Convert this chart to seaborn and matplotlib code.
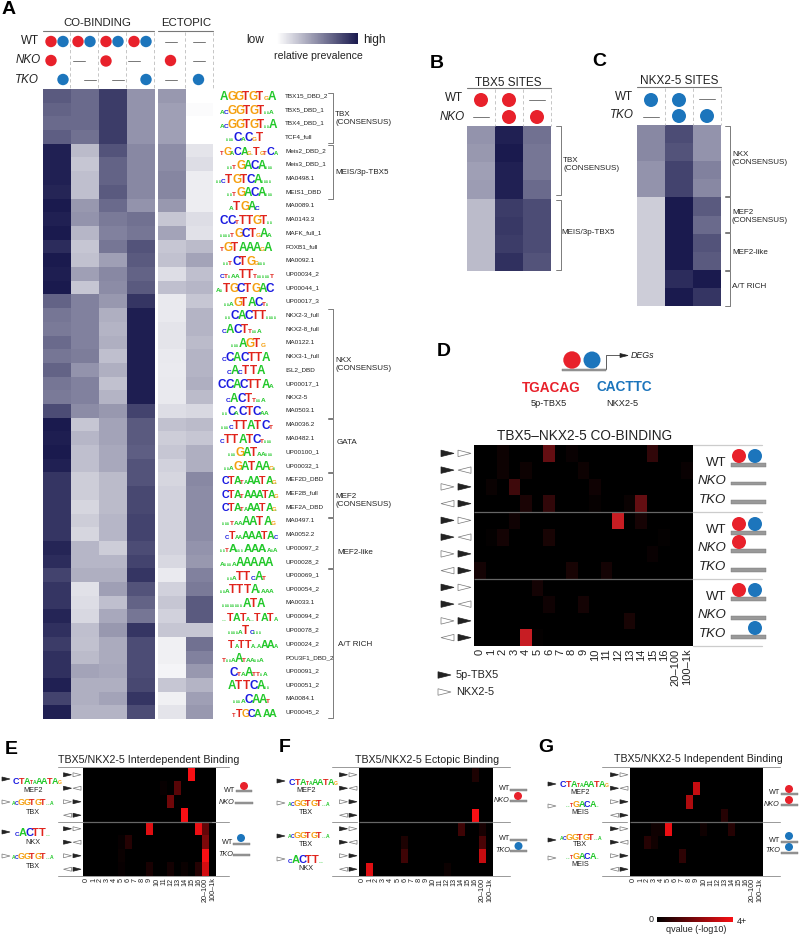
import numpy as np
import matplotlib
matplotlib.use('Agg')
import matplotlib.pyplot as plt
import seaborn as sns
from matplotlib.colors import LinearSegmentedColormap
from matplotlib.patches import Circle, Polygon, Rectangle

# panel A values (relative prevalence)
motif_names = ['TBX15_DBD_2', 'TBX5_DBD_1', 'TBX4_DBD_1', 'TCF4_full', 'Meis2_DBD_2', 'Meis3_DBD_1', 'MA0498.1', 'MEIS1_DBD',
               'MA0089.1', 'MA0143.3', 'MAFK_full_1', 'FOXB1_full', 'MA0092.1', 'UP00034_2', 'UP00044_1', 'UP00017_3',
               'NKX2-3_full', 'NKX2-8_full', 'MA0122.1', 'NKX3-1_full', 'ISL2_DBD', 'UP00017_1', 'NKX2-5', 'MA0503.1',
               'MA0036.2', 'MA0482.1', 'UP00100_1', 'UP00032_1', 'MEF2D_DBD', 'MEF2B_full', 'MEF2A_DBD', 'MA0497.1',
               'MA0052.2', 'UP00097_2', 'UP00028_2', 'UP00069_1', 'UP00054_2', 'MA0033.1', 'UP00094_2', 'UP00078_2',
               'UP00024_2', 'POU3F1_DBD_2', 'UP00091_2', 'UP00051_2', 'MA0084.1', 'UP00045_2']
motif_logos = ['AGGTGTgA', 'acGGTGT..a', 'acGGTGT..A', '...CaCgT', 'tGaCAg.TgtCa', '..tGACA...', '..cTGTCA....', '..tGACA...',
               'aTGAc', 'CCtTTGT..', '....tGCTgAa', 'tGTAAAgA', '..tCTGg...', 'ct.aaTTt.....t', 'a.TGCTGAC', '..aGTACt.',
               '..CACTT....', 'cACTt..a', '...AGTg', 'cCACTTA', 'cAcTTA', 'CCACTTAa', 'cACTt..a', '..CaCTCaa',
               '...cTTATCt', 'cTTATCt...', '...GATaa...', '..aGATAAg.', 'CTAtaAATAg.', 'CTAtAAATAg', 'CTAtaAATAg.', '...taaAATAg',
               'cTaaAAATAc', '..tA...AAA.a.a', 'a...aAAAAA', '..aTTcAt', '..aTTTA.aaa', '........ATA', '..TATa..TATa', '....aTc...',
               'TaTTa.aAAa', 't..aAtaa..a', 'CtaAtt.a', 'ATTCA..', '...aCAAt', 'tTGCA.AA.']
logo_starts = [220, 220, 220, 226, 220, 227, 216, 227, 229, 220, 220, 220, 223, 220, 216, 224,
               225, 222, 231, 222, 227, 218, 226, 222, 221, 220, 228, 224, 222, 222, 222, 222,
               225, 220, 220, 227, 220, 222, 222, 228, 228, 222, 230, 228, 233, 232]
co_binding = [[.72, .65, .85, .47], [.68, .65, .85, .47], [.65, .65, .85, .47], [.70, .62, .85, .47],
              [.97, .30, .75, .52], [.97, .25, .68, .52], [.97, .28, .68, .52], [.95, .28, .72, .52],
              [1.0, .45, .65, .47], [.97, .47, .58, .62], [1.0, .32, .55, .60], [.92, .25, .60, .75],
              [1.0, .27, .42, .72], [.98, .42, .52, .68], [1.0, .25, .50, .72], [.68, .55, .45, .88],
              [.60, .55, .35, .98], [.58, .55, .33, .98], [.65, .55, .35, .98], [.60, .57, .28, .98],
              [.68, .47, .35, .98], [.60, .55, .27, .98], [.58, .55, .33, .98], [.78, .50, .45, .82],
              [1.0, .25, .40, .72], [.98, .32, .40, .72], [1.0, .28, .38, .70], [.97, .28, .38, .75],
              [.88, .22, .30, .75], [.88, .22, .30, .80], [.88, .18, .30, .80], [.88, .22, .32, .82],
              [.88, .18, .32, .82], [.95, .32, .22, .78], [.92, .32, .32, .82], [.82, .35, .35, .88],
              [.88, .13, .42, .75], [.88, .15, .28, .68], [.95, .17, .38, .60], [.90, .28, .45, .88],
              [.85, .27, .37, .78], [.90, .30, .37, .78], [.90, .40, .38, .78], [.97, .35, .35, .80],
              [.82, .35, .40, .88], [.97, .33, .33, .78]]
ectopic = [[.45, .0], [.42, .02], [.42, .0], [.42, .0], [.50, .12], [.50, .15], [.53, .08], [.53, .08],
           [.45, .08], [.25, .15], [.40, .13], [.25, .30], [.27, .40], [.15, .28], [.28, .32], [.10, .25],
           [.10, .33], [.12, .33], [.12, .30], [.10, .33], [.09, .33], [.10, .35], [.10, .30], [.15, .17],
           [.27, .30], [.22, .25], [.25, .35], [.20, .35], [.18, .52], [.20, .50], [.20, .50], [.20, .50],
           [.20, .50], [.20, .47], [.17, .45], [.09, .55], [.20, .58], [.25, .72], [.20, .72], [.25, .25],
           [.07, .62], [.07, .55], [.05, .45], [.25, .33], [.07, .42], [.12, .45]]

tbx5_sites = [[.47, .97, .62], [.45, 1.0, .60], [.42, .97, .60], [.43, .97, .65],
              [.30, .85, .78], [.30, .87, .78], [.30, .85, .78], [.30, .90, .75]]
nkx_sites = [[.52, .78, .47], [.52, .75, .47], [.47, .82, .55], [.47, .82, .52], [.22, 1.0, .72],
             [.22, 1.0, .65], [.22, 1.0, .75], [.22, 1.0, .72], [.22, .92, 1.0], [.22, 1.0, .88]]

# spacing bins and the non zero q-value cells: (row, bin, value)
bin_labels = [str(i) for i in range(17)] + ['20\u2013100', '100\u20131k']
d_cells = [(0, 2, .06), (0, 6, .45), (0, 8, .04), (0, 15, .22), (1, 2, .06), (1, 4, .06), (1, 9, .06), (1, 18, .04),
           (2, 1, .05), (2, 3, .28), (2, 10, .07), (3, 4, .12), (3, 6, .22), (3, 10, .03), (3, 13, .05), (3, 14, .45),
           (4, 3, .07), (4, 12, .9), (4, 14, .1), (5, 1, .02), (5, 2, .09), (5, 6, .11), (5, 16, .02), (6, 15, .04),
           (7, 0, .09), (7, 8, .11), (7, 11, .09), (8, 5, .09), (9, 6, .07), (9, 9, .09), (10, 13, .11), (11, 4, .9), (11, 5, .02)]
e_cells = [(0, 15, 1.0), (1, 11, .03), (1, 13, .35), (2, 12, .45), (3, 14, 1.0), (4, 9, .9), (4, 16, .95), (4, 17, .4),
           (5, 5, .03), (5, 6, .15), (5, 17, .5), (6, 5, .04), (6, 17, 1.0), (7, 5, .03), (7, 9, .1), (7, 12, .08),
           (7, 14, .04), (7, 16, .15), (7, 17, .85)]
f_cells = [(0, 16, .12), (3, 16, 1.0), (4, 14, .25), (4, 17, .1), (5, 6, .12), (5, 17, .3), (6, 6, .25), (6, 17, .8),
           (7, 1, .9), (7, 12, .05)]
g_cells = [(1, 9, .8), (2, 8, .7), (3, 13, .15), (4, 3, .06), (4, 4, .06), (4, 5, .95), (4, 10, .06), (4, 14, .15),
           (5, 2, .15), (5, 3, .07), (6, 7, .18)]

RED = '#e8212b'
BLUE = '#1c75bc'
NAVY = '#1a1a4e'
LOGO_COLORS = {'A': '#22c82a', 'C': '#1a1ae0', 'G': '#f5a011', 'T': '#e0241c'}

sns.set_theme(style='white')
plt.rcParams['font.family'] = ['Liberation Sans', 'DejaVu Sans']

fig = plt.figure(figsize=(8, 9.36), dpi=100)
prevalence = LinearSegmentedColormap.from_list('prev', ['#ffffff', NAVY])
qval_d = LinearSegmentedColormap.from_list('qd', ['#000000', '#dd2027'])
qval = LinearSegmentedColormap.from_list('qv', ['#000000', '#f80f14'])


def px_ax(x0, y0, x1, y1):
    return fig.add_axes([x0 / 800, 1 - y1 / 936, (x1 - x0) / 800, (y1 - y0) / 936])


def prev_heat(data, x0, y0, x1, y1, **kw):
    ax = px_ax(x0, y0, x1, y1)
    sns.heatmap(np.array(data), ax=ax, cmap=prevalence, vmin=0, vmax=1, cbar=False,
                xticklabels=False, yticklabels=False, **kw)
    return ax


def q_heat(cells, nrows, box, cmap, fs, pad, splits, **kw):
    grid = np.zeros((nrows, len(bin_labels)))
    for r, c, v in cells:
        grid[r, c] = v
    ax = px_ax(*box)
    sns.heatmap(grid, ax=ax, cmap=cmap, vmin=0, vmax=1, xticklabels=bin_labels, yticklabels=False, **kw)
    ax.tick_params(axis='x', length=0, labelsize=fs, pad=pad, labelrotation=90, colors='#222222')
    ax.hlines(splits, 0, len(bin_labels), color='#666666', lw=0.9)
    return ax


# heatmaps
prev_heat(co_binding, 43, 89, 154.5, 719)
prev_heat(ectopic, 158, 89, 213, 719)
prev_heat(tbx5_sites, 467, 126, 551, 271)
prev_heat(nkx_sites, 637, 125, 721, 306)

q_heat(d_cells, 12, (474, 445, 693, 646), qval_d, 8, 2, [4, 8], cbar=False)
q_heat(e_cells, 8, (83, 768, 216, 875.5), qval, 5.2, 1.5, [4], cbar=False)
q_heat(f_cells, 8, (359, 768, 493, 876), qval, 5.2, 1.5, [4], cbar=False)
cax_q = px_ax(657, 917, 733, 922)
q_heat(g_cells, 8, (630, 768, 763, 876), qval, 5.2, 1.5, [4], cbar_ax=cax_q,
       cbar_kws={'orientation': 'horizontal', 'ticks': []})
cax_q.collections[0].set_cmap(LinearSegmentedColormap.from_list('qb', ['#000000', '#ed1c2e']))
cax_q.axis('off')

# low/high legend taken from a heatmap colour scale
cax_low = px_ax(277, 33, 358, 44)
fig.colorbar(plt.cm.ScalarMappable(cmap=prevalence), cax=cax_low, orientation='horizontal', ticks=[])
cax_low.axis('off')

# everything else is annotation, in figure pixels
over = fig.add_axes([0, 0, 1, 1], zorder=5, facecolor='none')
over.set_xlim(0, 800)
over.set_ylim(936, 0)
over.axis('off')


def label(x, y, s, fs, ha='center', **kw):
    kw.setdefault('color', '#222222')
    over.text(x, y, s, fontsize=fs, ha=ha, va='center', **kw)


def dot(x, y, color, r=5.7):
    over.add_patch(Circle((x, y), r, fc=color, ec='none', zorder=3))


def dash(x, y, half=6):
    over.plot([x - half, x + half], [y, y], color='#777777', lw=0.7)


def vdash(x, y0, y1):
    over.plot([x, x], [y0, y1], color='#bdbdbd', lw=0.6, ls=(0, (4, 3)))


def hline(x0, x1, y, color='#777777', lw=0.8):
    over.plot([x0, x1], [y, y], color=color, lw=lw)


def bracket(x, y0, y1):
    over.plot([x - 5, x, x, x - 5], [y0, y0, y1, y1], color='#666666', lw=0.6)


def tri(x, y, right, filled, w=12, h=6):
    # x is the left edge of the triangle
    if right:
        pts = [(x, y - h / 2), (x + w, y), (x, y + h / 2)]
    else:
        pts = [(x + w, y - h / 2), (x, y), (x + w, y + h / 2)]
    over.add_patch(Polygon(pts, closed=True, fc='#222222' if filled else 'white',
                           ec='#222222' if filled else '#777777', lw=0.5, zorder=3))


def pair(x, y, kind, w, h, gap):
    # the four orientations of the two sites, top to bottom
    if kind == 0:
        tri(x, y, True, True, w, h)
        tri(x + w + gap, y, True, False, w, h)
    elif kind == 1:
        tri(x, y, True, True, w, h)
        tri(x + w + gap, y, False, False, w, h)
    elif kind == 2:
        tri(x, y, True, False, w, h)
        tri(x + w + gap, y, True, True, w, h)
    else:
        tri(x, y, False, False, w, h)
        tri(x + w + gap, y, True, True, w, h)


def logo(x, base, seq, size=8.5, right=None):
    sizes = [0.22 if ch == '.' else (0.55 if ch.islower() else 1.0) for ch in seq]
    steps = [(0.3 if ch == '.' else 0.85 * k) * size for ch, k in zip(seq, sizes)]
    # long logos get squeezed so they stop before the motif names
    squeeze = 1.0
    if right is not None and x + sum(steps) > right:
        squeeze = (right - x) / sum(steps)
    for ch, k, step in zip(seq, sizes, steps):
        letter = 'A' if ch == '.' else ch.upper()
        over.text(x, base, letter, fontsize=size * k * max(squeeze, 0.9), color=LOGO_COLORS[letter], ha='left',
                  va='baseline', fontweight='bold')
        x += step * squeeze


def bar(x0, x1, y, h=3.2):
    over.add_patch(Rectangle((x0, y - h / 2), x1 - x0, h, fc='#999999', ec='#777777', lw=0.3, zorder=2))


# panel letters
for s, x, y in [('A', 2, 10), ('B', 430, 63), ('C', 592, 62), ('D', 437, 351), ('E', 5, 749), ('F', 279, 748), ('G', 538, 748)]:
    label(x, y, s, 14, ha='left', fontweight='bold', color='black')

# panel A header
label(97, 23, 'CO-BINDING', 8.2)
label(186, 23, 'ECTOPIC', 8.2)
hline(43, 154, 31)
hline(158, 213, 31)
label(39, 41, 'WT', 8.4, ha='right')
label(41, 60, 'NKO', 8.4, ha='right', style='italic')
label(39, 80, 'TKO', 8.4, ha='right', style='italic')
for x in [70, 98, 126, 154, 185, 213]:
    vdash(x, 32, 88)
for x in [51, 78, 106, 134]:
    dot(x, 41.5, RED)
    dot(x + 12, 41.5, BLUE)
dot(51, 60.5, RED)
dash(79, 61)
dot(106, 61, RED)
dash(134, 61)
dot(63, 79.5, BLUE)
dash(90, 80)
dash(118, 80)
dot(146, 79.5, BLUE)
dash(171, 42)
dash(198.5, 42)
dot(170.5, 60.5, RED)
dash(198.5, 61)
dash(171, 80)
dot(198.5, 79.5, BLUE)
label(246, 40, 'low', 8.6, ha='left')
label(363, 40, 'high', 8.6, ha='left')
label(318, 56, 'relative prevalence', 7.6)

# motif names and logos
row_h = 630 / len(motif_names)
for i, name in enumerate(motif_names):
    yc = 89 + row_h * (i + 0.5)
    label(285, yc, name, 4.6, ha='left')
    logo(logo_starts[i], yc + 4.5, motif_logos[i], right=277)

for y0, y1 in [(93, 143), (145, 199), (309, 418), (419, 472), (473, 517), (518, 568), (569, 718)]:
    bracket(333, y0, y1)
label(335, 119, 'TBX\n(CONSENSUS)', 5.75, ha='left')
label(335, 173, 'MEIS/3p-TBX5', 5.75, ha='left')
label(335, 364, 'NKX\n(CONSENSUS)', 5.75, ha='left')
label(337, 442, 'GATA', 5.75, ha='left')
label(335, 500, 'MEF2\n(CONSENSUS)', 5.75, ha='left')
label(337, 552, 'MEF2-like', 5.75, ha='left')
label(338, 644, 'A/T RICH', 5.75, ha='left')

# panel B
label(508, 83, 'TBX5 SITES', 8.5)
hline(467, 551, 88)
label(463, 98, 'WT', 8.4, ha='right')
label(465, 117.5, 'NKO', 8.4, ha='right', style='italic')
for x in [495, 523, 551]:
    vdash(x, 89, 126)
dot(481, 100, RED, 7)
dot(509, 100, RED, 7)
dash(537, 100, 8)
dash(481, 117, 8)
dot(509, 117, RED, 7)
dot(537, 117, RED, 7)
bracket(560.5, 126, 195)
bracket(560.5, 200, 270)
label(563, 165, 'TBX\n(CONSENSUS)', 5.75, ha='left')
label(561.5, 232, 'MEIS/3p-TBX5', 5.75, ha='left')

# panel C
label(679, 81, 'NKX2-5 SITES', 8.5)
hline(637, 721, 87)
label(633, 96.5, 'WT', 8.4, ha='right')
label(634, 115, 'TKO', 8.4, ha='right', style='italic')
for x in [665, 693, 721]:
    vdash(x, 88, 125)
dot(651, 100, BLUE, 7)
dot(679, 100, BLUE, 7)
dash(707, 99, 8)
dash(651, 117, 8)
dot(679, 116, BLUE, 7)
dot(707, 116, BLUE, 7)
for y0, y1 in [(126, 196), (197, 232), (233, 270), (271, 306)]:
    bracket(730, y0, y1)
label(732, 158, 'NKX\n(CONSENSUS)', 5.75, ha='left')
label(732, 216, 'MEF2\n(CONSENSUS)', 5.75, ha='left')
label(732, 252, 'MEF2-like', 5.75, ha='left')
label(732, 287, 'A/T RICH', 5.75, ha='left')

# panel D header
dot(572, 360, RED, 8.7)
dot(592, 360, BLUE, 8.5)
bar(562, 606, 370, 2.6)
over.plot([606, 606, 622], [369, 355, 355], color='#444444', lw=0.6)
tri(620, 355.5, True, True, 8, 4)
label(631, 355.5, 'DEGs', 6.4, ha='left', style='italic')
label(551, 388, 'TGACAG', 9.8, fontweight='bold', color=RED)
label(624, 387, 'CACTTC', 9.8, fontweight='bold', color=BLUE)
label(549, 403.5, '5p-TBX5', 6.6)
label(622, 404, 'NKX2-5', 6.6)
label(585, 435.5, 'TBX5\u2013NKX2-5 CO-BINDING', 9.8)

d_row = 201 / 12
for i in range(12):
    pair(441, 445 + d_row * (i + 0.5), i % 4, 13, 6.5, 4)

for y in [445, 512, 579, 646]:
    hline(693, 762, y, '#cccccc', 0.9)
block_y = [[462.7, 481, 500], [530, 548, 567], [597, 615, 634]]
block_bar = [[465, 483.5, 502], [533, 551, 570], [599, 618, 637]]
for ys, bs in zip(block_y, block_bar):
    for y, b, s in zip(ys, bs, ['WT', 'NKO', 'TKO']):
        label(726, y, s, 9.5, ha='right', style='normal' if s == 'WT' else 'italic')
        bar(731, 766, b)
for b in block_bar:
    dot(739, b[0] - 9, RED, 7)
    dot(755, b[0] - 9, BLUE, 7)
dot(739, 542, RED, 7)
dot(755, 628, BLUE, 7)
tri(438, 675, True, True, 13, 6.5)
label(456, 675, '5p-TBX5', 7.8, ha='left')
tri(438, 692, True, False, 13, 6.5)
label(456, 692, 'NKX2-5', 7.8, ha='left')

# panels E, F, G
label(149, 760, 'TBX5/NKX2-5 Interdependent Binding', 7.7)
label(427, 760, 'TBX5/NKX2-5 Ectopic Binding', 7.7)
label(698, 759.5, 'TBX5/NKX2-5 Independent Binding', 7.7)
for x0, x1 in [(58, 229), (332, 510), (602, 780)]:
    hline(x0, x1, 767, '#999999', 0.7)
    hline(x0, x1, 875.5, '#999999', 0.7)
    hline(x0, x0 + 25, 821.5, '#999999', 0.7)
    hline(x1 - 17, x1, 821.5, '#999999', 0.7)
for hx in [83, 359, 630]:
    for i in range(8):
        pair(hx - 19.5, 768 + 13.5 * (i + 0.5), i % 4, 8, 4, 1.5)

tbx_logo = 'acGGTGT..a'
nkx_logo = 'cACTT..'
mef_logo = 'CTAtaAATAg'
meis_logo = '..tGACA..'

tri(2, 779, True, True, 8, 4)
logo(13, 784, mef_logo, 6.5)
label(33, 790, 'MEF2', 5.2)
tri(2, 802, True, False, 8, 4)
logo(12, 805, tbx_logo, 6.5)
label(33, 812, 'TBX', 5.2)
tri(2, 832, True, True, 8, 4)
logo(15, 836, nkx_logo, 8)
label(33, 842, 'NKX', 5.2)
tri(2, 856, True, False, 8, 4)
logo(12, 859, tbx_logo, 6.5)
label(33, 866, 'TBX', 5.2)

tri(277, 781, True, True, 8, 4)
logo(289, 785, mef_logo, 6.5)
label(306, 791, 'MEF2', 5.2)
tri(277, 803, True, False, 8, 4)
logo(288, 806, tbx_logo, 6.5)
label(306, 813, 'TBX', 5.2)
tri(277, 836, True, True, 8, 4)
logo(288, 838, tbx_logo, 6.5)
label(306, 845, 'TBX', 5.2)
tri(277, 859, True, False, 8, 4)
logo(288, 863, nkx_logo, 8)
label(306, 868, 'NKX', 5.2)

tri(548, 784, True, True, 8, 4)
logo(560, 787, mef_logo, 6.5)
label(580, 793, 'MEF2', 5.2)
tri(548, 806, True, False, 8, 4)
logo(566, 807, meis_logo, 6.5)
label(580, 812, 'MEIS', 5.2)
tri(548, 840, True, True, 8, 4)
logo(560, 840, tbx_logo, 6.5)
label(580, 845, 'TBX', 5.2)
tri(548, 858, True, False, 8, 4)
logo(566, 859, meis_logo, 6.5)
label(580, 864, 'MEIS', 5.2)

# side cartoons of E, F, G
label(235, 790, 'WT', 5.2, ha='right')
label(235, 803, 'NKO', 5.2, ha='right', style='italic')
bar(236, 252, 791, 1.8)
bar(235, 253, 803, 1.8)
dot(244, 786, RED, 4)
label(233, 842, 'WT', 5.2, ha='right')
label(233, 855, 'TKO', 5.2, ha='right', style='italic')
bar(233, 250, 844, 1.8)
bar(233, 250, 855, 1.8)
dot(241, 838, BLUE, 4)

label(510, 789, 'WT', 5.2, ha='right')
label(510, 800, 'NKO', 5.2, ha='right', style='italic')
bar(510, 527, 790, 1.8)
bar(510, 527, 801, 1.8)
dot(518, 796, RED, 4)
label(510, 838, 'WT', 5.2, ha='right')
label(510, 850, 'TKO', 5.2, ha='right', style='italic')
bar(510, 527, 840, 1.8)
bar(510, 527, 851, 1.8)
dot(518.5, 846, BLUE, 4)

label(780, 792, 'WT', 5.2, ha='right')
label(780, 804, 'NKO', 5.2, ha='right', style='italic')
bar(781, 798, 794, 1.8)
bar(781, 798, 805, 1.8)
dot(789, 789, RED, 4)
dot(789, 800, RED, 4)
label(780, 840, 'WT', 5.2, ha='right')
label(780, 851, 'TKO', 5.2, ha='right', style='italic')
bar(781, 798, 842, 1.8)
bar(781, 798, 853, 1.8)
dot(789, 836, BLUE, 4)
dot(789, 847, BLUE, 4)

label(654, 920, '0', 6.5, ha='right')
label(737, 921, '4+', 6.5, ha='left')
label(696, 929, 'qvalue (-log10)', 6.5)

fig.savefig('out.png', dpi=100)
